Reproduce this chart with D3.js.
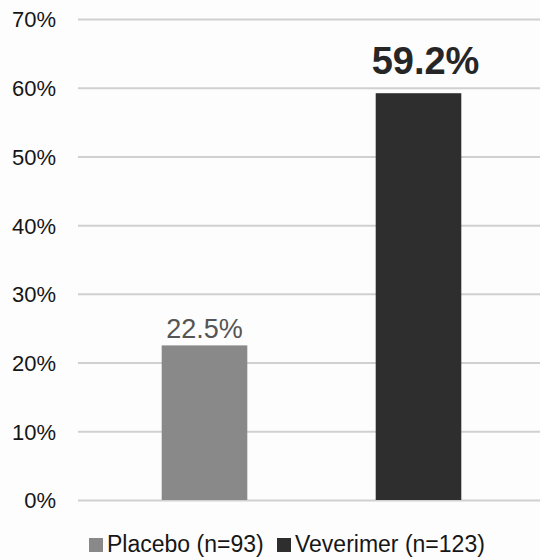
<!DOCTYPE html>
<html>
<head>
<meta charset="utf-8">
<script src="https://cdn.jsdelivr.net/npm/d3@7"></script>
<style>
  html, body { margin: 0; padding: 0; background: #fdfdfd; }
  svg { display: block; font-family: Arial, "Liberation Sans", sans-serif; }
</style>
</head>
<body>
<svg id="chart" width="540" height="560"></svg>
<script>
// Response rate by treatment group
const groups = ["Placebo (n=93)", "Veverimer (n=123)"];
const responseRates = [22.5, 59.2];
const barColors = ["#898989", "#2e2e2e"];
const tickValues = [0, 10, 20, 30, 40, 50, 60, 70];

const svg = d3.select("#chart");
const width = 540;

const y = d3.scaleLinear().domain([0, 70]).range([500, 19]);
const x = d3.scaleBand()
  .domain(groups)
  .range([97.5, 525.5])
  .paddingInner(0.6)
  .paddingOuter(0.3);

// Horizontal gridlines with percent labels on the left
const yAxis = d3.axisLeft(y)
  .tickValues(tickValues)
  .tickFormat(d => d + "%")
  .tickSize(-(width - 78))
  .tickPadding(22);

const gAxis = svg.append("g")
  .attr("transform", "translate(78,0)")
  .call(yAxis);
gAxis.select(".domain").remove();
gAxis.selectAll(".tick line")
  .attr("stroke", "#d0d0d0")
  .attr("stroke-width", 2);
gAxis.selectAll(".tick text")
  .attr("fill", "#161616")
  .attr("font-size", 22)
  .attr("dy", "0.36em");

// Bars
svg.append("g")
  .selectAll("rect")
  .data(groups)
  .join("rect")
  .attr("x", d => x(d))
  .attr("width", x.bandwidth())
  .attr("y", (d, i) => y(responseRates[i]))
  .attr("height", (d, i) => y(0) - y(responseRates[i]))
  .attr("fill", (d, i) => barColors[i]);

// Value labels above bars
const labelStyles = [
  { size: 27, weight: "normal", color: "#555", gap: 7, dx: 0 },
  { size: 38, weight: "bold", color: "#262626", gap: 19, dx: 7 }
];
svg.append("g")
  .selectAll("text")
  .data(groups)
  .join("text")
  .attr("x", (d, i) => x(d) + x.bandwidth() / 2 + labelStyles[i].dx)
  .attr("y", (d, i) => y(responseRates[i]) - labelStyles[i].gap)
  .attr("text-anchor", "middle")
  .attr("font-size", (d, i) => labelStyles[i].size)
  .attr("font-weight", (d, i) => labelStyles[i].weight)
  .attr("fill", (d, i) => labelStyles[i].color)
  .text((d, i) => responseRates[i].toFixed(1) + "%");

// Legend
const legendX = [89, 277];
const legend = svg.append("g");
groups.forEach((g, i) => {
  legend.append("rect")
    .attr("x", legendX[i])
    .attr("y", 538)
    .attr("width", 14)
    .attr("height", 14)
    .attr("fill", barColors[i]);
  legend.append("text")
    .attr("x", legendX[i] + 18)
    .attr("y", 552)
    .attr("font-size", 23)
    .attr("fill", "#161616")
    .text(g);
});
</script>
</body>
</html>
